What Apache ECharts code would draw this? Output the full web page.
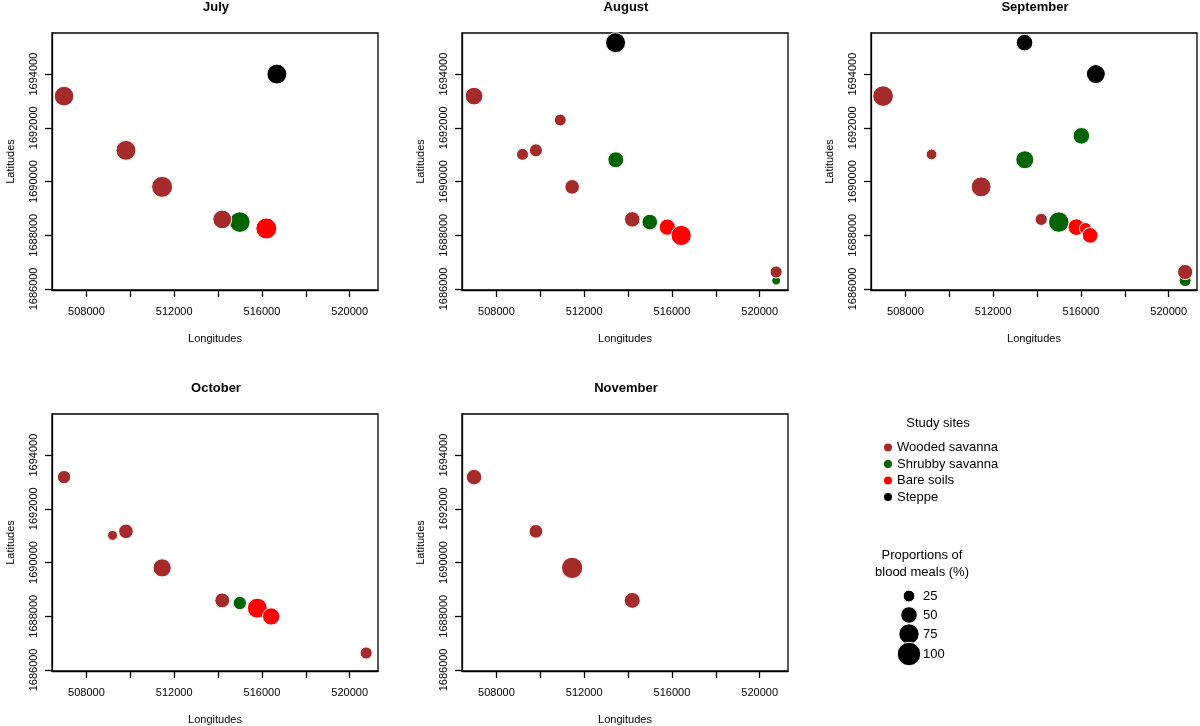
<!DOCTYPE html>
<html>
<head>
<meta charset="utf-8">
<script src="https://cdn.jsdelivr.net/npm/echarts@6/dist/echarts.min.js"></script>
<style>
html,body{margin:0;padding:0;background:#fff;}
#chart{width:1200px;height:726px;}
</style>
</head>
<body>
<div id="chart"></div>
<script>
// ---- Data ----
const months = ['July', 'August', 'September', 'October', 'November'];
const siteTypes = ['Wooded savanna', 'Shrubby savanna', 'Bare soils', 'Steppe'];
const typeColors = ['#A52A2A', '#006400', '#FF0000', '#000000'];
// site index: W1..W7, G1..G4, R1..R3, S1..S2
const siteType = [0, 0, 0, 0, 0, 0, 0, 1, 1, 1, 1, 2, 2, 2, 3, 3];
const siteLon = [506980, 509800, 511450, 514190, 509190, 510910, 520750, 514990, 513440, 516020, 520750, 515790, 516200, 516420, 513430, 516680];
const siteLat = [1693180, 1691160, 1689800, 1688590, 1691010, 1692290, 1686630, 1688490, 1690810, 1691700, 1686310, 1688300, 1688250, 1687990, 1695170, 1694000];
// proportion of blood meals (%) per site, per month (null = not sampled)
const julyProp = [70, 72, 80, 65, null, null, null, 78, null, null, null, null, 80, null, null, 72];
const augustProp = [57, 31, 39, 44, 26, 26, 27, 45, 46, null, 14, 48, null, 74, 72, null];
const septemberProp = [78, null, 72, 27, 21, null, 42, 76, 59, 50, 26, 50, 26, 45, 50, 65];
const octoberProp = [32, 39, 60, 40, 18, null, 27, 32, null, null, null, 72, null, 54, null, null];
const novemberProp = [45, 34, 82, 46, null, null, null, null, null, null, null, null, null, null, null, null];
const monthProps = [julyProp, augustProp, septemberProp, octoberProp, novemberProp];
const xLabelTicks = [508000, 512000, 516000, 520000];
const xTicks = [508000, 510000, 512000, 514000, 516000, 518000, 520000];
const yTicks = [1686000, 1688000, 1690000, 1692000, 1694000];
const sizeLegendValues = [25, 50, 75, 100];

// ---- Layout ----
const FONT = 'Liberation Sans, Arial, Helvetica, sans-serif';
const panels = [
  {left: 52, top: 33, width: 326, height: 257},
  {left: 462, top: 33, width: 326, height: 257},
  {left: 871, top: 33, width: 326, height: 257},
  {left: 52, top: 414, width: 326, height: 257},
  {left: 462, top: 414, width: 326, height: 257}
];
const sizeOf = p => 2.35 * Math.sqrt(p);
const drawOrder = [1, 0, 2, 3];

const grids = [], xAxes = [], yAxes = [], series = [], graphics = [];
panels.forEach((p, i) => {
  grids.push({left: p.left, top: p.top, width: p.width, height: p.height,
    show: true, borderColor: '#000', borderWidth: 1.3, backgroundColor: 'transparent'});
  xAxes.push({
    type: 'value', gridIndex: i, min: 506430, max: 521290,
    name: 'Longitudes', nameLocation: 'middle', nameGap: 43,
    nameTextStyle: {fontFamily: FONT, fontSize: 11, color: '#000'},
    axisLine: {show: true, onZero: false, lineStyle: {color: '#000', width: 1.3}},
    axisTick: {show: true, length: 7, customValues: xTicks, lineStyle: {color: '#000', width: 1.3}},
    axisLabel: {show: true, customValues: xLabelTicks, margin: 16, fontFamily: FONT, fontSize: 11, color: '#000',
      formatter: v => String(v)},
    splitLine: {show: false}
  });
  yAxes.push({
    type: 'value', gridIndex: i, min: 1685960, max: 1695530,
    name: 'Latitudes', nameLocation: 'middle', nameGap: 36, nameRotate: 90,
    nameTextStyle: {fontFamily: FONT, fontSize: 11, color: '#000'},
    axisLine: {show: true, onZero: false, lineStyle: {color: '#000', width: 1.3}},
    axisTick: {show: true, length: 7, customValues: yTicks, lineStyle: {color: '#000', width: 1.3}},
    axisLabel: {show: true, customValues: yTicks, rotate: 90, margin: 13, fontFamily: FONT, fontSize: 11, color: '#000',
      formatter: v => String(v)},
    splitLine: {show: false}
  });
  const props = monthProps[i];
  drawOrder.forEach(t => {
    const data = [];
    props.forEach((v, s) => {
      if (v != null && siteType[s] === t) data.push([siteLon[s], siteLat[s], v]);
    });
    series.push({
      type: 'scatter', name: siteTypes[t], xAxisIndex: i, yAxisIndex: i,
      data: data, symbol: 'circle', symbolSize: v => sizeOf(v[2]),
      itemStyle: {color: typeColors[t], borderColor: '#fff', borderWidth: 1, opacity: 1},
      emphasis: {disabled: true}, clip: true
    });
  });
  graphics.push({type: 'text', x: p.left + p.width / 2 + 1, y: p.top - 26,
    style: {text: months[i], font: 'bold 13px ' + FONT, fill: '#000', align: 'center', verticalAlign: 'middle'}});
});

// legend titles
graphics.push({type: 'text', x: 938, y: 423,
  style: {text: 'Study sites', font: '13px ' + FONT, fill: '#000', align: 'center', verticalAlign: 'middle'}});
graphics.push({type: 'text', x: 922, y: 555,
  style: {text: 'Proportions of', font: '13px ' + FONT, fill: '#000', align: 'center', verticalAlign: 'middle'}});
graphics.push({type: 'text', x: 922, y: 572,
  style: {text: 'blood meals (%)', font: '13px ' + FONT, fill: '#000', align: 'center', verticalAlign: 'middle'}});
const sizeLegendY = [596, 615, 634, 654];
sizeLegendValues.forEach((v, k) => {
  graphics.push({type: 'circle', shape: {cx: 909, cy: sizeLegendY[k], r: sizeOf(v) / 2},
    style: {fill: '#000', stroke: '#fff', lineWidth: 1}});
  graphics.push({type: 'text', x: 923, y: sizeLegendY[k],
    style: {text: String(v), font: '13px ' + FONT, fill: '#000', align: 'left', verticalAlign: 'middle'}});
});

const chart = echarts.init(document.getElementById('chart'), null, {renderer: 'canvas'});
chart.setOption({
  animation: false,
  backgroundColor: '#fff',
  grid: grids, xAxis: xAxes, yAxis: yAxes, series: series,
  legend: {
    data: siteTypes, orient: 'vertical', left: 879, top: 436,
    icon: 'circle', itemWidth: 8, itemHeight: 8, itemGap: 3.5,
    selectedMode: false,
    textStyle: {fontFamily: FONT, fontSize: 13, color: '#000', padding: 0},
    itemStyle: {borderWidth: 0}
  },
  graphic: graphics
});
</script>
</body>
</html>
